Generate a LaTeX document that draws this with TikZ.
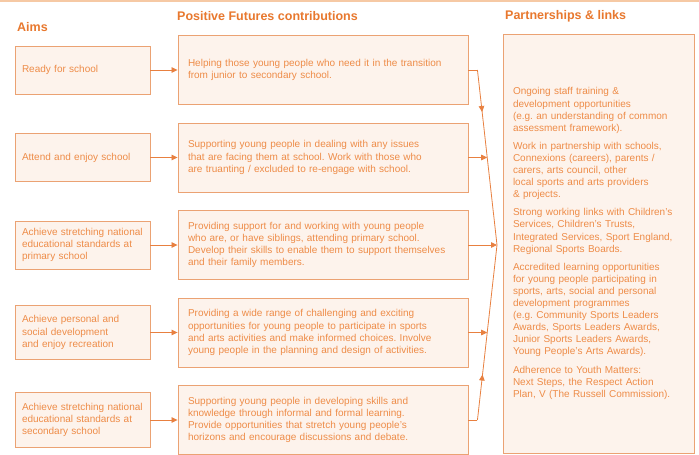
\documentclass[tikz,border=0pt]{standalone}
\usepackage{fontspec}
\setmainfont{Liberation Sans}
\usetikzlibrary{arrows.meta,decorations.markings,calc}

\definecolor{pfText}{HTML}{EE8C48}
\definecolor{pfHead}{HTML}{E8782E}
\definecolor{pfLine}{HTML}{EBA273}
\definecolor{pfArrow}{HTML}{E88040}
\definecolor{pfFill}{HTML}{FDF3EC}
\definecolor{pfRule}{HTML}{F6C9A4}

\tikzset{
  boxbase/.style={draw=pfLine, fill=pfFill, line width=0.9pt, align=left,
    text=pfText, font=\fontsize{10}{12.1}\selectfont\frenchspacing, inner ysep=0pt},
  aimbox/.style={boxbase, minimum width=135pt, text width=121pt, inner xsep=7pt},
  contribbox/.style={boxbase, minimum width=290pt, minimum height=69pt,
    text width=270pt, inner xsep=10pt},
  partbox/.style={boxbase, minimum width=191pt, minimum height=419pt,
    text width=171pt, inner xsep=10pt},
  heading/.style={anchor=west, inner sep=0pt, text=pfHead,
    font=\fontsize{12.5}{14}\selectfont\bfseries},
  link/.style={draw=pfArrow, line width=0.8pt},
  linkarrow/.style={link, -{Triangle[length=6pt,width=5.5pt]}},
  midarrow/.style={postaction={decorate}, decoration={markings,
    mark=at position #1 with {\arrow[pfArrow]{Triangle[length=6pt,width=5.5pt]}}}},
}

\begin{document}
\begin{tikzpicture}[x=1pt,y=-1pt]
  \useasboundingbox (0,0) rectangle (699,455);
  \fill[white] (0,0) rectangle (699,455);
  \draw[pfRule, line width=1.6pt] (0,1) -- (699,1);

  % column headings
  \node[heading] (hAims) at (17,27) {Aims};
  \node[heading] (hContrib) at (177,16) {Positive Futures contributions};
  \node[heading] (hPart) at (505,16) {Partnerships \& links};

  % aims
  \node[aimbox, minimum height=48pt] (a1) at (82.5,70) {Ready for school};
  \node[aimbox, minimum height=48pt] (a2) at (82.5,157.5) {Attend and enjoy school};
  \node[aimbox, minimum height=48pt] (a3) at (82.5,245) {Achieve stretching national\\educational standards at\\primary school};
  \node[aimbox, minimum height=54pt] (a4) at (82.5,332.5) {Achieve personal and\\social development\\and enjoy recreation};
  \node[aimbox, minimum height=55pt] (a5) at (82.5,420) {Achieve stretching national\\educational standards at\\secondary school};

  % contributions
  \node[contribbox] (c1) at (323,70) {Helping those young people who need it in the transition\\from junior to secondary school.\\[6pt]};
  \node[contribbox] (c2) at (323,157.5) {Supporting young people in dealing with any issues\\that are facing them at school. Work with those who\\are truanting / excluded to re-engage with school.};
  \node[contribbox] (c3) at (323,245) {Providing support for and working with young people\\who are, or have siblings, attending primary school.\\Develop their skills to enable them to support themselves\\and their family members.};
  \node[contribbox] (c4) at (323,332.5) {Providing a wide range of challenging and exciting\\opportunities for young people to participate in sports\\and arts activities and make informed choices. Involve\\young people in the planning and design of activities.};
  \node[contribbox] (c5) at (323,420) {Supporting young people in developing skills and\\knowledge through informal and formal learning.\\Provide opportunities that stretch young people's\\horizons and encourage discussions and debate.};

  % partnerships
  \node[partbox] (p) at (598.5,243.5) {Ongoing staff training \&\\development opportunities\\(e.g. an understanding of common\\assessment framework).\\[6pt]
    Work in partnership with schools,\\Connexions (careers), parents /\\carers, arts council, other\\local sports and arts providers\\\& projects.\\[6pt]
    Strong working links with Children's\\Services, Children's Trusts,\\Integrated Services, Sport England,\\Regional Sports Boards.\\[6pt]
    Accredited learning opportunities\\for young people participating in\\sports, arts, social and personal\\development programmes\\(e.g. Community Sports Leaders\\Awards, Sports Leaders Awards,\\Junior Sports Leaders Awards,\\Young People's Arts Awards).\\[6pt]
    Adherence to Youth Matters:\\Next Steps, the Respect Action\\Plan, V (The Russell Commission).};

  % aims feed their contributions
  \foreach \i in {1,...,5} \draw[linkarrow] (a\i) -- (c\i);

  % contributions converge on the partnerships column
  \coordinate (apex) at (497,245);
  \coordinate (jt) at ($(c1.east)+(9,0)$);
  \coordinate (jb) at ($(c5.east)+(9,0)$);
  \coordinate (mt) at ($(jt)!0.5!(apex)$);
  \coordinate (mb) at ($(jb)!0.5!(apex)$);

  \draw[link] (c1.east) -- (jt);
  \draw[link, midarrow=0.24] (jt) -- (apex);
  \draw[link] (c5.east) -- (jb);
  \draw[link, midarrow=0.26] (jb) -- (apex);
  \draw[linkarrow] (c2.east) -- (mt);
  \draw[linkarrow] (c3.east) -- (apex);
  \draw[linkarrow] (c4.east) -- (mb);
\end{tikzpicture}
\end{document}
